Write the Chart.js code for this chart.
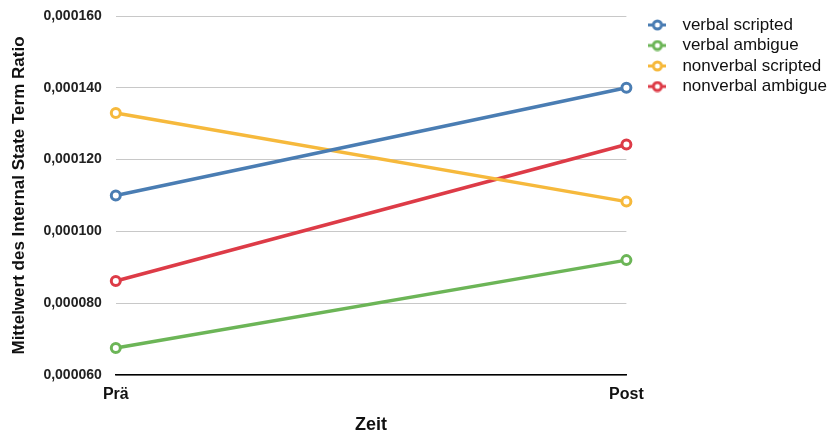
<!DOCTYPE html>
<html>
<head>
<meta charset="utf-8">
<script src="https://cdn.jsdelivr.net/npm/chart.js@4.4.6/dist/chart.umd.min.js"></script>
<style>
  html, body { margin: 0; padding: 0; background: #fff; }
  #wrap { width: 832px; height: 434px; }
</style>
</head>
<body>
<div id="wrap"><canvas id="c" width="832" height="434"></canvas></div>
<script>
const zeit = ["Prä", "Post"];
const verbalScripted = [0.000110, 0.000140];
const verbalAmbigue = [0.0000675, 0.000092];
const nonverbalScripted = [0.000133, 0.0001083];
const nonverbalAmbigue = [0.0000862, 0.0001242];
const yTicks = [0.00006, 0.00008, 0.00010, 0.00012, 0.00014, 0.00016];

const seriesNames = ["verbal scripted", "verbal ambigue", "nonverbal scripted", "nonverbal ambigue"];
const seriesValues = [verbalScripted, verbalAmbigue, nonverbalScripted, nonverbalAmbigue];
const colors = ["#4a7db3", "#6cb557", "#f6b93c", "#dd3b47"];

const font = "'Liberation Sans', Arial, Helvetica, sans-serif";

// little line + hollow circle marker for the legend
function legendMarker(color) {
  const c = document.createElement("canvas");
  c.width = 18; c.height = 12;
  const ctx = c.getContext("2d");
  ctx.strokeStyle = color;
  ctx.lineWidth = 3;
  ctx.beginPath(); ctx.moveTo(0, 6); ctx.lineTo(18, 6); ctx.stroke();
  ctx.beginPath(); ctx.arc(9, 6, 4, 0, Math.PI * 2);
  ctx.fillStyle = "#fff"; ctx.fill(); ctx.stroke();
  return c;
}
const markers = colors.map(legendMarker);

const datasets = seriesNames.map((name, i) => ({
  label: name,
  data: seriesValues[i],
  borderColor: colors[i],
  backgroundColor: "#ffffff",
  borderWidth: 3.5,
  pointRadius: 4.5,
  pointHoverRadius: 4.5,
  pointBorderWidth: 3,
  pointBackgroundColor: "#ffffff",
  pointBorderColor: colors[i],
  tension: 0
}));

const legendShift = {
  id: "legendShift",
  afterLayout(chart) {
    const lg = chart.legend;
    lg.left += 11; lg.right += 11;
    lg.top -= 3; lg.bottom -= 3;
  }
};

new Chart(document.getElementById("c"), {
  type: "line",
  data: { labels: zeit, datasets },
  plugins: [legendShift],
  options: {
    responsive: false,
    animation: false,
    layout: { padding: { left: 5, top: 16, right: 6, bottom: 0 } },
    plugins: {
      tooltip: { enabled: false },
      legend: {
        position: "right",
        align: "start",
        labels: {
          usePointStyle: true,
          pointStyleWidth: 33,
          boxHeight: 12,
          padding: 3.5,
          color: "#111",
          font: { family: font, size: 17 },
          generateLabels: (chart) => chart.data.datasets.map((ds, i) => ({
            text: ds.label,
            pointStyle: markers[i],
            fillStyle: "#fff",
            strokeStyle: colors[i],
            lineWidth: 0,
            fontColor: "#111",
            hidden: false,
            datasetIndex: i
          }))
        }
      }
    },
    scales: {
      x: {
        offset: false,
        grid: { display: false, drawTicks: false },
        border: { display: true, color: "#000", width: 1.5 },
        ticks: { color: "#111", padding: 9.5, font: { family: font, size: 16, weight: "bold" } },
        title: { display: true, text: "Zeit", color: "#111", padding: { top: 4.9, bottom: 1.5 }, font: { family: font, size: 18, weight: "bold", lineHeight: 0.8 } }
      },
      y: {
        min: yTicks[0],
        max: yTicks[yTicks.length - 1],
        afterBuildTicks: (axis) => { axis.ticks = yTicks.map(v => ({ value: v })); },
        afterFit: (axis) => { axis.paddingTop = 0; axis.paddingBottom = 0; },
        grid: { color: "#c8c8c8", lineWidth: 1, drawTicks: false },
        border: { display: false },
        ticks: {
          color: "#222",
          padding: 14,
          font: { family: font, size: 14, weight: "bold" },
          callback: (v) => v.toFixed(6).replace(".", ",")
        },
        title: { display: true, text: "Mittelwert des Internal State Term Ratio", color: "#111", padding: { top: 4, bottom: 0 }, font: { family: font, size: 17, weight: "bold" } }
      }
    }
  }
});
</script>
</body>
</html>
